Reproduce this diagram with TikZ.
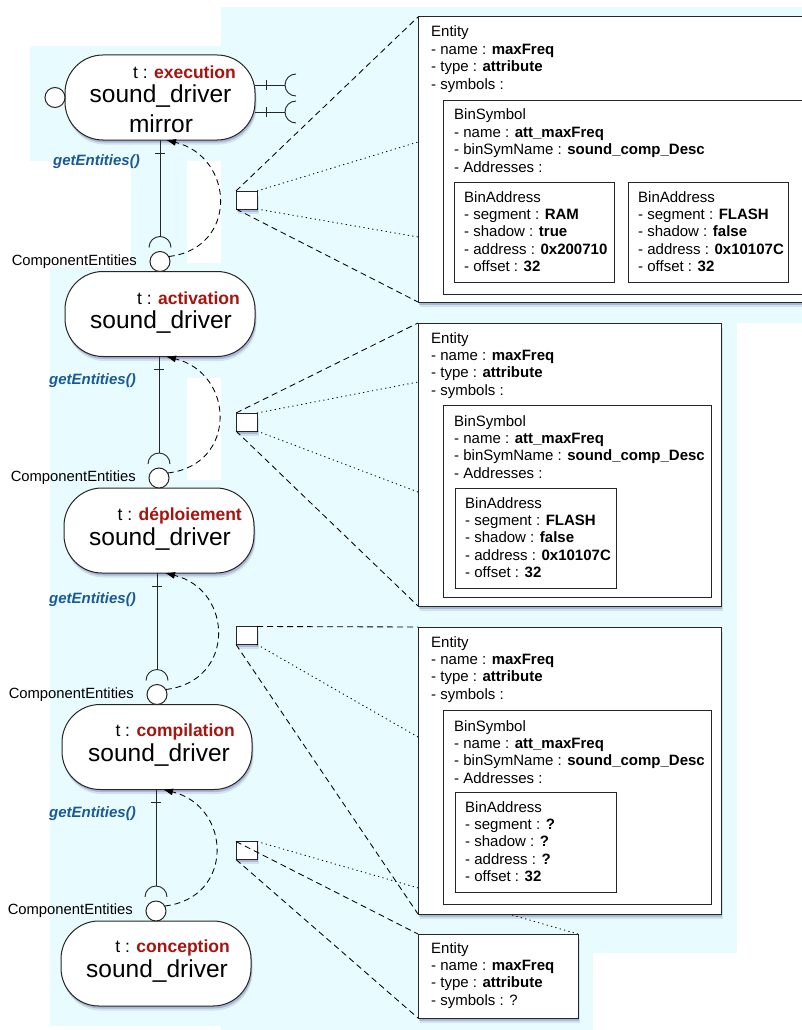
\documentclass[tikz,border=0pt]{standalone}
\usepackage{fontspec}
\setmainfont{Liberation Sans}
\usetikzlibrary{arrows.meta, positioning, calc, shadows}

\definecolor{bgcyan}{RGB}{232,251,255}
\definecolor{stagered}{RGB}{165,20,15}
\definecolor{callblue}{RGB}{25,90,150}

\pgfdeclarelayer{bg}
\pgfdeclarelayer{links}
\pgfsetlayers{bg,links,main}

\begin{document}
\begin{tikzpicture}[
    x=1pt, y=-1pt,
    every node/.style={font=\fontsize{15}{18}\selectfont},
    shade/.style={
        drop shadow={shadow xshift=1.5pt, shadow yshift=-4.5pt, opacity=0.10, fill=blue!40!black},
        drop shadow={shadow xshift=1pt, shadow yshift=-2.5pt, opacity=0.18, fill=blue!40!black}},
    comp/.style={draw=black!85, line width=1pt, fill=white, rounded corners=38pt, minimum width=190pt, minimum height=85pt, inner sep=0pt, outer sep=0pt, shade},
    lolli/.style={circle, draw=black!85, line width=1pt, fill=white, minimum size=20pt, inner sep=0pt, outer sep=0pt},
    tlab/.style={anchor=base east, inner sep=0pt, font=\fontsize{17.5}{21}\selectfont},
    cname/.style={anchor=base, inner sep=0pt, font=\fontsize{24.5}{29}\selectfont},
    getlab/.style={anchor=base east, inner sep=0pt, text=callblue, font=\fontsize{15}{18}\selectfont\bfseries\itshape},
    celab/.style={inner sep=0pt, font=\fontsize{14.8}{18}\selectfont},
    sel/.style={draw=black!85, line width=0.9pt, fill=white, minimum width=21pt, minimum height=18pt, inner sep=0pt, outer sep=0pt, shade},
    panel/.style={draw=black!85, line width=1pt, fill=white, anchor=north west, inner sep=0pt, outer sep=0pt, shade},
    inbox/.style={draw=black!85, line width=0.8pt, fill=white, anchor=north west, inner sep=0pt, outer sep=0pt},
    txt/.style={anchor=base west, inner sep=0pt},
    link/.style={line width=0.9pt, draw=black!85},
    call/.style={line width=0.85pt, dash pattern=on 6pt off 4pt, -{Latex[length=10pt, width=7pt]}},
    zoomdash/.style={line width=0.85pt, dash pattern=on 6pt off 4pt},
    zoomdot/.style={line width=0.85pt, dash pattern=on 1.2pt off 3.3pt}
]
\useasboundingbox (0,0) rectangle (802,1030);

% Background areas
\begin{pgfonlayer}{bg}
    \fill[bgcyan] (30,46) rectangle (221,161);
    \fill[bgcyan] (221,7) rectangle (802,323);
    \fill[bgcyan] (221,323) rectangle (737,953);
    \fill[bgcyan] (221,953) rectangle (593,1030);
    \fill[bgcyan] (131,161) rectangle (221,267);
    \fill[bgcyan] (50,267) rectangle (221,1026);
    \fill[white] (187,161) rectangle (221,263);
    \fill[white] (187,378) rectangle (221,480);
\end{pgfonlayer}

% Stages of the component, from execution down to conception
\def\rowsp{216.5}
\node[comp] (n1) at (160,97.5) {};
\node[comp] (n2) at (160,97.5+\rowsp) {};
\node[comp] (n3) at (159,97.5+2*\rowsp) {};
\node[comp] (n4) at (157,97.5+3*\rowsp) {};
\node[comp] (n5) at (156,97.5+4*\rowsp) {};

\node[tlab] (t1) at (236,79) {t : {\color{stagered}\bfseries execution}};
\node[cname] (name1) at (160.5,103) {sound\_driver};
\node[cname] (mir1) at (161,132) {mirror};
\node[tlab] (t2) at (240,304) {t : {\color{stagered}\bfseries activation}};
\node[cname] (name2) at (161,328) {sound\_driver};
\node[tlab] (t3) at (242,520) {t : {\color{stagered}\bfseries déploiement}};
\node[cname] (name3) at (160,545) {sound\_driver};
\node[tlab] (t4) at (235,736) {t : {\color{stagered}\bfseries compilation}};
\node[cname] (name4) at (159,761) {sound\_driver};
\node[tlab] (t5) at (230,952) {t : {\color{stagered}\bfseries conception}};
\node[cname] (name5) at (157,977) {sound\_driver};

% Interfaces of the execution stage
\node[lolli, left=0pt of n1] (lp1) {};
\coordinate (rq1) at (296,85);
\coordinate (rq2) at (296,112);
\foreach \q in {rq1, rq2} {
    \draw[link] (\q -| n1.east) -- ($(\q)+(-11,0)$);
    \draw[link] ($(\q -| n1.east)+(11,-5)$) -- ++(0,10);
    \draw[link] ($(\q)+(0,-11)$) arc[start angle=270, end angle=90, radius=11];
}

% Links between stages: socket, lollipop and getEntities() call
\foreach \a/\b/\gx/\gy in {1/2/140/165, 2/3/136/384, 3/4/136/603, 4/5/136/817} {
    \node[lolli, above=0pt of n\b] (ce\a) {};
    \node[celab, left=13pt of ce\a] (cel\a) {ComponentEntities};
    \draw[link] (ce\a.center |- n\a.south) -- ($(ce\a.center)+(0,-25)$);
    \draw[link] ($(ce\a.center |- n\a.south)+(-5,13)$) -- ++(10,0);
    \draw[link] ($(ce\a.center)+(-11,-14)$) arc[start angle=180, end angle=360, radius=11];
    \draw[call] (ce\a.30) .. controls +(70,-8) and +(69,17) .. ([xshift=6pt]n\a.south);
    \node[getlab] (get\a) at (\gx,\gy) {getEntities()};
}

\def\lsp{17.4}

% Panel 1 - execution: two addresses
\node[panel, minimum width=420pt, minimum height=285pt] (ent1) at (418,17) {};
\foreach \txt [count=\k from 0] in {Entity, - name : \textbf{maxFreq}, - type : \textbf{attribute}, - symbols :}
    \node[txt] (ent1-\k) at ($(ent1.north west)+(13,20+\k*\lsp)$) {\txt};
\node[inbox, minimum width=400pt, minimum height=194pt] (sym1) at (443,100) {};
\foreach \txt [count=\k from 0] in {BinSymbol, - name : \textbf{att\_maxFreq}, - binSymName : \textbf{sound\_comp\_Desc}, - Addresses :}
    \node[txt] (sym1-\k) at ($(sym1.north west)+(11,20+\k*\lsp)$) {\txt};
\node[inbox, minimum width=160pt, minimum height=100pt] (adr1a) at (454,182) {};
\foreach \txt [count=\k from 0] in {BinAddress, - segment : \textbf{RAM}, - shadow : \textbf{true}, - address : \textbf{0x200710}, - offset : \textbf{32}}
    \node[txt] (adr1a-\k) at ($(adr1a.north west)+(10,20+\k*\lsp)$) {\txt};
\node[inbox, minimum width=160pt, minimum height=100pt] (adr1b) at (628,182) {};
\foreach \txt [count=\k from 0] in {BinAddress, - segment : \textbf{FLASH}, - shadow : \textbf{false}, - address : \textbf{0x10107C}, - offset : \textbf{32}}
    \node[txt] (adr1b-\k) at ($(adr1b.north west)+(10,20+\k*\lsp)$) {\txt};

% Panel 2 - activation: one address
\node[panel, minimum width=303pt, minimum height=283pt] (ent2) at (418,323) {};
\foreach \txt [count=\k from 0] in {Entity, - name : \textbf{maxFreq}, - type : \textbf{attribute}, - symbols :}
    \node[txt] (ent2-\k) at ($(ent2.north west)+(13,20+\k*\lsp)$) {\txt};
\node[inbox, minimum width=268pt, minimum height=192pt] (sym2) at (443,405) {};
\foreach \txt [count=\k from 0] in {BinSymbol, - name : \textbf{att\_maxFreq}, - binSymName : \textbf{sound\_comp\_Desc}, - Addresses :}
    \node[txt] (sym2-\k) at ($(sym2.north west)+(11,21+\k*\lsp)$) {\txt};
\node[inbox, minimum width=161pt, minimum height=100pt] (adr2) at (455,488) {};
\foreach \txt [count=\k from 0] in {BinAddress, - segment : \textbf{FLASH}, - shadow : \textbf{false}, - address : \textbf{0x10107C}, - offset : \textbf{32}}
    \node[txt] (adr2-\k) at ($(adr2.north west)+(10,20+\k*\lsp)$) {\txt};

% Panel 3 - deploiement: address unknown
\node[panel, minimum width=303pt, minimum height=287pt] (ent3) at (418,627) {};
\foreach \txt [count=\k from 0] in {Entity, - name : \textbf{maxFreq}, - type : \textbf{attribute}, - symbols :}
    \node[txt] (ent3-\k) at ($(ent3.north west)+(13,20+\k*\lsp)$) {\txt};
\node[inbox, minimum width=268pt, minimum height=194pt] (sym3) at (443,710) {};
\foreach \txt [count=\k from 0] in {BinSymbol, - name : \textbf{att\_maxFreq}, - binSymName : \textbf{sound\_comp\_Desc}, - Addresses :}
    \node[txt] (sym3-\k) at ($(sym3.north west)+(11,21+\k*\lsp)$) {\txt};
\node[inbox, minimum width=161pt, minimum height=100pt] (adr3) at (455,792) {};
\foreach \txt [count=\k from 0] in {BinAddress, - segment : \textbf{?}, - shadow : \textbf{?}, - address : \textbf{?}, - offset : \textbf{32}}
    \node[txt] (adr3-\k) at ($(adr3.north west)+(10,20+\k*\lsp)$) {\txt};

% Panel 4 - conception: no symbol yet
\node[panel, minimum width=160pt, minimum height=84pt] (ent4) at (418,934) {};
\foreach \txt [count=\k from 0] in {Entity, - name : \textbf{maxFreq}, - type : \textbf{attribute}, - symbols : ?}
    \node[txt] (ent4-\k) at ($(ent4.north west)+(13,19+\k*\lsp)$) {\txt};

% Selection squares and zoom lines to the panels
\begin{pgfonlayer}{links}
    \node[sel] (s1) at (246.5,200) {};
    \node[sel] (s2) at (246.5,422) {};
    \node[sel] (s3) at (246.5,635.5) {};
    \node[sel] (s4) at (246.5,850.5) {};

    \draw[zoomdash] (s1.north west) -- (ent1.north west);
    \draw[zoomdot] (s1.north east) -- ($(ent1.north west)+(0,125)$);
    \draw[zoomdot] (s1.south east) -- ($(ent1.north west)+(0,220)$);
    \draw[zoomdash] (s1.south west) -- (ent1.south west);

    \draw[zoomdash] (s2.north west) -- (ent2.north west);
    \draw[zoomdot] (s2.north east) -- ($(ent2.north west)+(0,59)$);
    \draw[zoomdot] (s2.south east) -- ($(ent2.north west)+(0,169)$);
    \draw[zoomdash] (s2.south west) -- (ent2.south west);

    \draw[zoomdash] (s3.north east) -- (ent3.north west);
    \draw[zoomdot] (s3.south east) -- ($(ent3.north west)+(0,110)$);
    \draw[zoomdash] (s3.south west) -- (ent3.south west);

    \draw[zoomdash] (s4.north west) -- (ent4.north west);
    \draw[zoomdot] (s4.north east) -- (ent4.north east);
    \draw[zoomdash] (s4.south west) -- (ent4.south west);
\end{pgfonlayer}

\end{tikzpicture}
\end{document}
